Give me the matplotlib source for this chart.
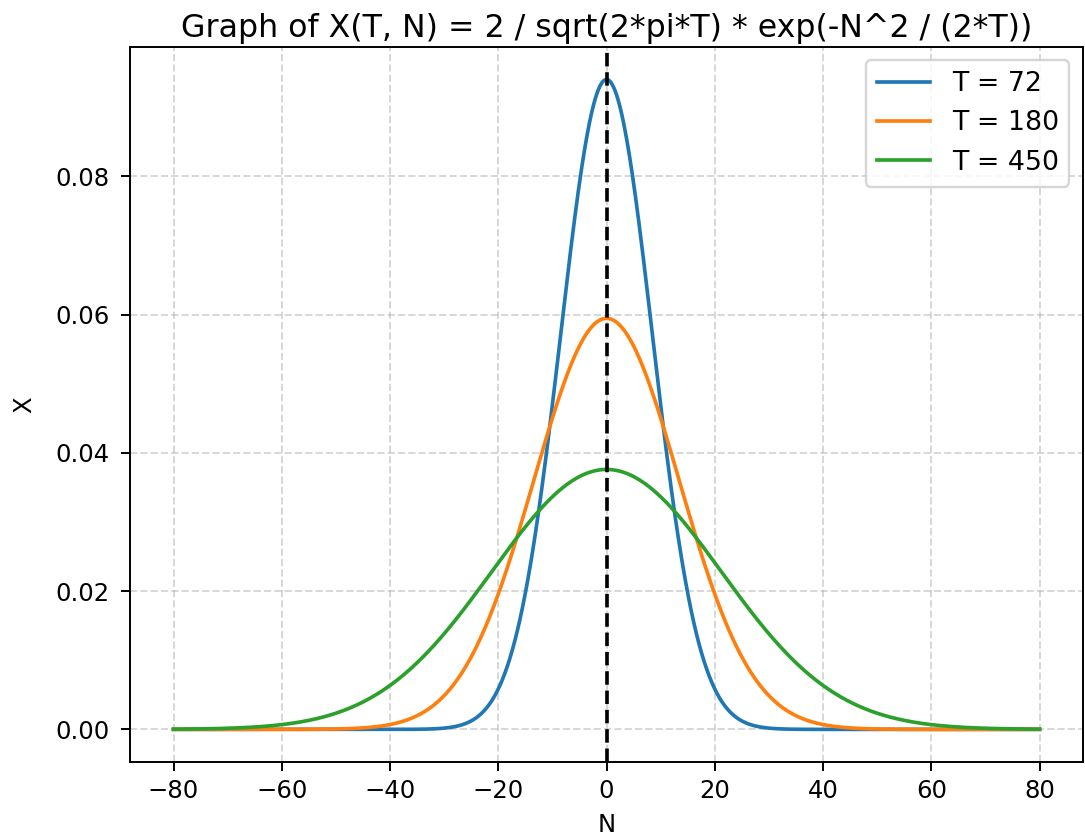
import numpy as np
import matplotlib
matplotlib.use("Agg")
import matplotlib.pyplot as plt

# time values for each curve and the N range
T_values = [72, 180, 450]
N = np.linspace(-80, 80, 1000)

fig, ax = plt.subplots(figsize=(6.2, 4.8), dpi=175)

for T in T_values:
    X = 2 / np.sqrt(2 * np.pi * T) * np.exp(-N**2 / (2 * T))
    ax.plot(N, X, label="T = " + str(T))

ax.axvline(0, color='black', linestyle='--')

ax.set_title("Graph of X(T, N) = 2 / sqrt(2*pi*T) * exp(-N^2 / (2*T))", fontsize=13, pad=4)
ax.set_xlabel("N")
ax.set_ylabel("X", labelpad=8)
ax.tick_params(axis='y', pad=5)
ax.grid(True, linestyle='--', alpha=0.5)
ax.legend(loc='upper right', fontsize=11)

fig.subplots_adjust(left=0.12, right=0.998, top=0.944, bottom=0.093)
fig.savefig("out.png", dpi=175)
